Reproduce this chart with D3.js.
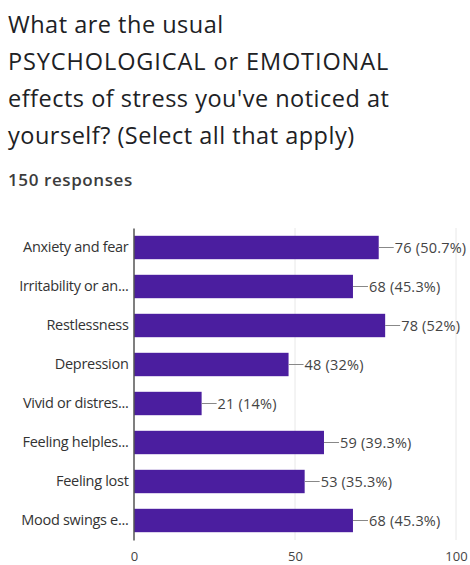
<!DOCTYPE html>
<html>
<head>
<meta charset="utf-8">
<script src="https://cdn.jsdelivr.net/npm/d3@7"></script>
<style>
  html, body { margin: 0; padding: 0; background: #fff; }
  svg { display: block; }
</style>
</head>
<body>
<svg id="chart" width="470" height="565"></svg>
<script>
// Survey question and summary
const titleLines = [
  "What are the usual",
  "PSYCHOLOGICAL or EMOTIONAL",
  "effects of stress you've noticed at",
  "yourself? (Select all that apply)"
];
const responseNote = "150 responses";

// Answer options (truncated as shown) and counts
const categories = [
  "Anxiety and fear",
  "Irritability or an...",
  "Restlessness",
  "Depression",
  "Vivid or distres...",
  "Feeling helples...",
  "Feeling lost",
  "Mood swings e..."
];
const counts = [76, 68, 78, 48, 21, 59, 53, 68];
const percents = ["50.7%", "45.3%", "52%", "32%", "14%", "39.3%", "35.3%", "45.3%"];
const xTicks = [0, 50, 100];

const FONT = "'Open Sans', Roboto, sans-serif";
const svg = d3.select("#chart");

// Title block
svg.append("g")
  .selectAll("text")
  .data(titleLines)
  .join("text")
  .attr("x", 8)
  .attr("y", (d, i) => 33 + i * 37)
  .attr("font-family", FONT)
  .attr("font-size", 23.5)
  .attr("letter-spacing", (d, i) => i === 1 ? 0.9 : 0.5)
  .attr("fill", "#202124")
  .text(d => d);

svg.append("text")
  .attr("x", 8)
  .attr("y", 186)
  .attr("font-family", FONT)
  .attr("font-size", 17)
  .attr("font-weight", 600)
  .attr("letter-spacing", 0.6)
  .attr("fill", "#3c3c3c")
  .text(responseNote);

// Scales
const x = d3.scaleLinear().domain([0, 100]).range([134, 456]);
const y = d3.scaleBand().domain(categories).range([228, 540])
  .paddingInner(0.4).paddingOuter(0.2);

// Vertical gridlines
svg.append("g")
  .selectAll("line")
  .data(xTicks.slice(1))
  .join("line")
  .attr("x1", d => x(d)).attr("x2", d => x(d))
  .attr("y1", 228).attr("y2", 540)
  .attr("stroke", "#e8e8e8")
  .attr("stroke-width", 1);

// X axis tick labels
const xAxis = d3.axisBottom(x).tickValues(xTicks).tickSize(0).tickPadding(0);
const gx = svg.append("g").attr("transform", "translate(0,552)").call(xAxis);
gx.select(".domain").remove();
gx.selectAll("text")
  .attr("font-family", FONT)
  .attr("font-size", 13)
  .attr("fill", "#444");

// Bars
const rows = categories.map((c, i) => ({ cat: c, v: counts[i], pct: percents[i] }));

svg.append("g")
  .selectAll("rect")
  .data(rows)
  .join("rect")
  .attr("x", x(0))
  .attr("y", d => y(d.cat))
  .attr("width", d => x(d.v) - x(0))
  .attr("height", y.bandwidth())
  .attr("fill", "#4b1e9f");

// Y axis with category labels
const yAxis = d3.axisLeft(y).tickSize(0).tickPadding(5);
const gy = svg.append("g").attr("transform", `translate(${x(0) - 0.5},0)`).call(yAxis);
gy.select(".domain").attr("stroke", "#555").attr("stroke-width", 1.5);
gy.selectAll("text")
  .attr("font-family", FONT)
  .attr("font-size", 14.5)
  .attr("letter-spacing", -0.3)
  .attr("fill", "#333");

// Value annotations with leader lines
const ann = svg.append("g").selectAll("g").data(rows).join("g")
  .attr("transform", d => `translate(${x(d.v)},${y(d.cat) + y.bandwidth() / 2})`);
ann.append("line")
  .attr("x1", 0).attr("x2", 15)
  .attr("stroke", "#888").attr("stroke-width", 1);
ann.append("text")
  .attr("x", 16)
  .attr("dy", "0.35em")
  .attr("font-family", FONT)
  .attr("font-size", 14.5)
  .attr("letter-spacing", 0.2)
  .attr("fill", "#444")
  .text(d => `${d.v} (${d.pct})`);
</script>
</body>
</html>
